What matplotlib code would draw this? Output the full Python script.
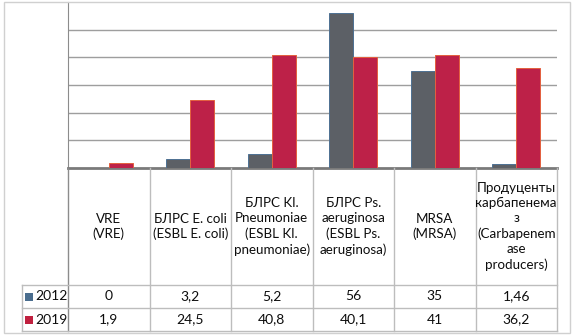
import numpy as np
import matplotlib.pyplot as plt
from matplotlib.patches import Rectangle
from matplotlib.lines import Line2D

categories = [
    "VRE\n(VRE)",
    "БЛРС E. coli\n(ESBL E. coli)",
    "БЛРС Kl.\nPneumoniae\n(ESBL Kl.\npneumoniae)",
    "БЛРС Ps.\naeruginosa\n(ESBL Ps.\naeruginosa)",
    "MRSA\n(MRSA)",
    "Продуценты\nкарбапенема\nз\n(Carbapenem\nase\nproducers)",
]
series_names = ["2012", "2019"]
values_2012 = [0, 3.2, 5.2, 56, 35, 1.46]
values_2019 = [1.9, 24.5, 40.8, 40.1, 41, 36.2]

W, H = 574, 336
plt.rcParams["font.family"] = ["Lato", "Noto Sans", "DejaVu Sans"]

fill_colors = ["#5c6066", "#bd2148"]
edge_colors = ["#4e7193", "#e4603e"]
key_colors = ["#4a6d8e", "#c0203f"]
FS = 9.6
TXT = "#0d0d0d"


def fx(x):
    return x / W


def fy(y):
    return 1 - y / H


fig = plt.figure(figsize=(W / 100, H / 100), dpi=100)

# plot area in pixel coordinates
left, right, top, base = 68, 557, 2, 168
ax = fig.add_axes([fx(left), fy(base), fx(right - left), (base - top) / H])

n = len(categories)
x = np.arange(n)
bw = 0.295
ax.bar(x - bw / 2, values_2012, bw, color=fill_colors[0], edgecolor=edge_colors[0], linewidth=0.7, zorder=3)
ax.bar(x + bw / 2, values_2019, bw, color=fill_colors[1], edgecolor=edge_colors[1], linewidth=0.7, zorder=3)
ax.set_xlim(-0.5, n - 0.5)
ax.set_ylim(0, 60)
ax.set_yticks([10, 20, 30, 40, 50])
ax.yaxis.grid(True, color="#9e9e9e", linewidth=1.0)
ax.set_axisbelow(True)
ax.tick_params(left=False, bottom=False, labelleft=False, labelbottom=False)
for s in ["top", "right"]:
    ax.spines[s].set_visible(False)
ax.spines["left"].set_color("#8c8c8c")
ax.spines["bottom"].set_color("#7a7a7a")
ax.spines["bottom"].set_linewidth(2.0)

# outer frame
fig.add_artist(Rectangle((fx(4), fy(333)), fx(566), (333 - 2) / H, transform=fig.transFigure,
                         fill=False, edgecolor="#d0d0d0", linewidth=1.0))

# data table
col_w = (right - left) / n
row_lab_l = 22
hdr_bot, r1_bot, r2_bot = 285, 308, 331
tbl_color = "#bdbdbd"


def hline(x0, x1, y, color=tbl_color, lw=1.0):
    fig.add_artist(Line2D([fx(x0), fx(x1)], [fy(y), fy(y)], transform=fig.transFigure, color=color, linewidth=lw))


def vline(x0, y0, y1, color=tbl_color, lw=1.0):
    fig.add_artist(Line2D([fx(x0), fx(x0)], [fy(y0), fy(y1)], transform=fig.transFigure, color=color, linewidth=lw))


vline(left, base, r2_bot, color="#8c8c8c")
for k in range(1, n + 1):
    vline(left + k * col_w, base, r2_bot)
vline(row_lab_l, hdr_bot, r2_bot)
for y in [hdr_bot, r1_bot, r2_bot]:
    hline(row_lab_l, right, y)

for i, lab in enumerate(categories):
    cx = left + (i + 0.5) * col_w
    fig.text(fx(cx), fy((base + hdr_bot) / 2), lab, ha="center", va="center",
             fontsize=FS, linespacing=1.3, color=TXT)

rows = [values_2012, values_2019]
for r, vals in enumerate(rows):
    y0 = hdr_bot if r == 0 else r1_bot
    cy = y0 + 11.5
    for i, v in enumerate(vals):
        cx = left + (i + 0.5) * col_w
        fig.text(fx(cx), fy(cy), f"{v:g}".replace(".", ","), ha="center", va="center",
                 fontsize=FS + 0.4, color=TXT)
    fig.add_artist(Rectangle((fx(25), fy(cy + 4)), fx(8), 8 / H, transform=fig.transFigure,
                             facecolor=key_colors[r], edgecolor="none"))
    fig.text(fx(35), fy(cy), series_names[r], ha="left", va="center", fontsize=FS + 0.4, color=TXT)

fig.savefig("out.png", dpi=100)
